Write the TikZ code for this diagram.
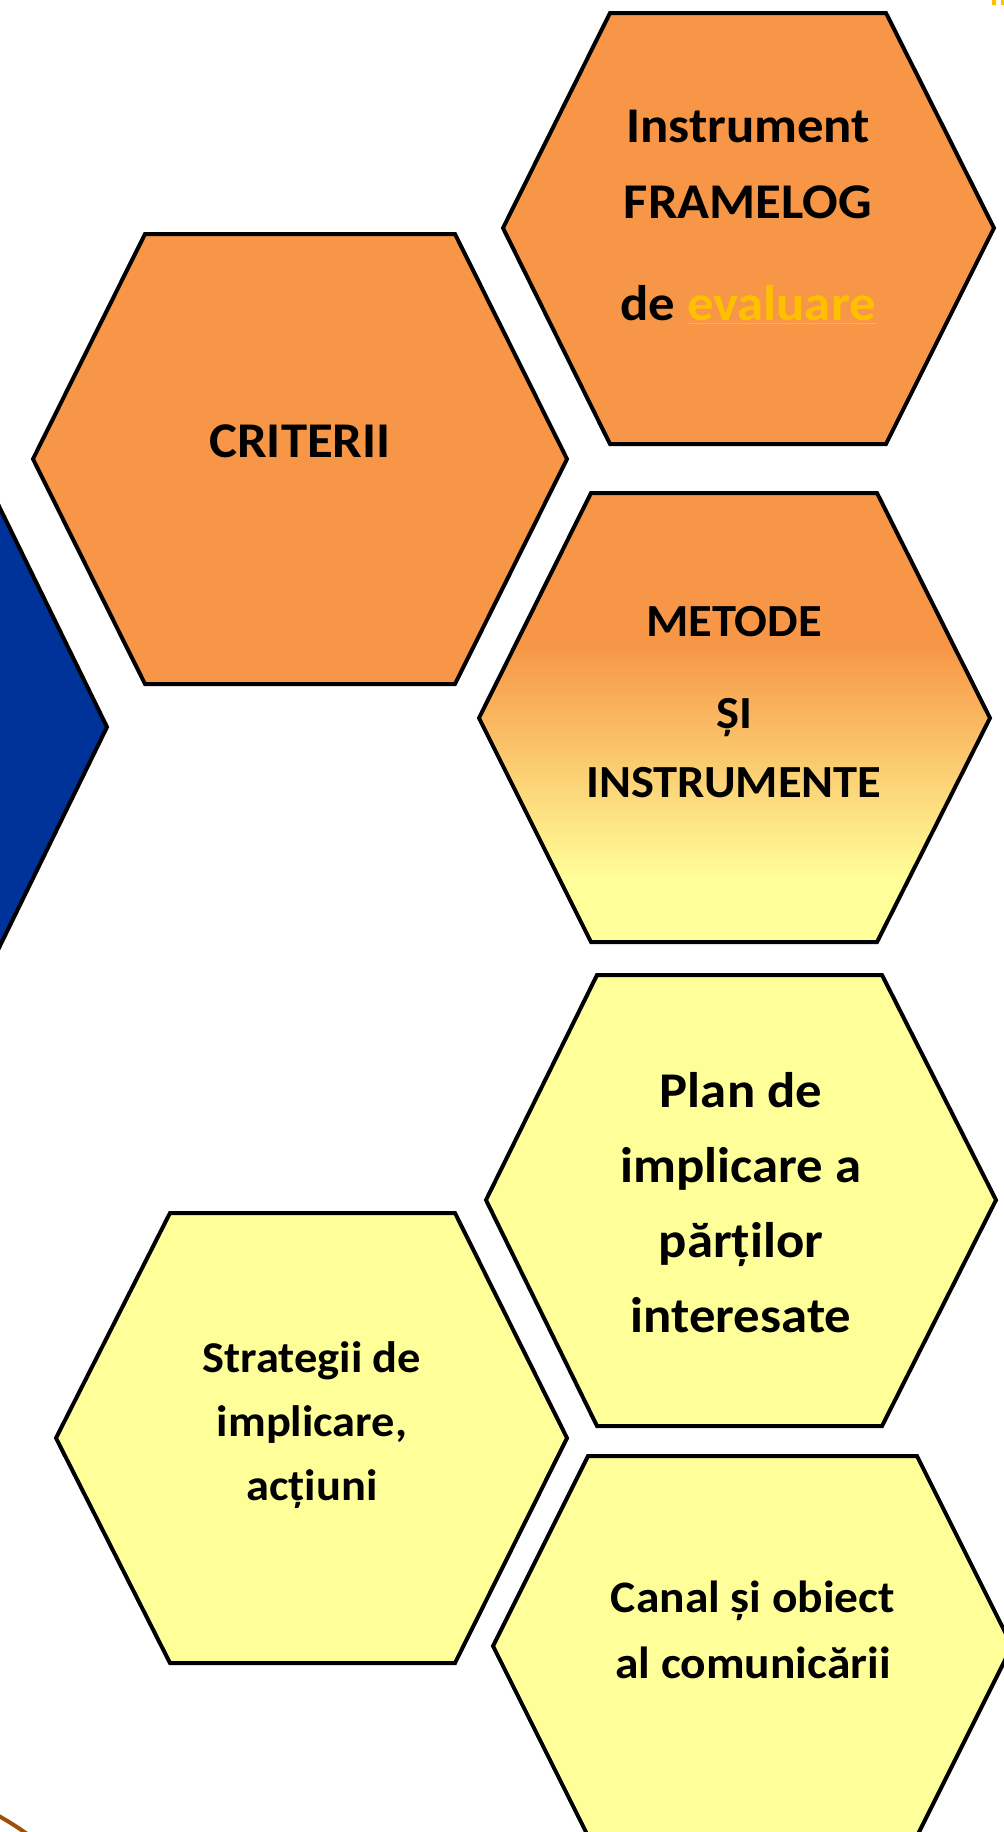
\documentclass[tikz,border=0pt]{standalone}
\usepackage{fontspec}
\setmainfont{Carlito}[FakeStretch=1.055]

\definecolor{hexorange}{RGB}{247,150,70}
\definecolor{hexyellow}{RGB}{255,255,153}
\definecolor{hexblue}{RGB}{0,51,153}
\definecolor{linkgold}{RGB}{255,192,0}
\definecolor{rimbrown}{RGB}{158,80,10}
\pgfdeclareverticalshading{metshade}{100bp}{color(0bp)=(hexyellow); color(32bp)=(hexyellow); color(58bp)=(hexorange); color(100bp)=(hexorange)}

\begin{document}
\begin{tikzpicture}[x=0.5pt,y=-0.5pt,
    hexa/.style={draw=black,line width=2pt},
    lbl/.style={font=\bfseries\fontsize{25}{38}\selectfont,align=center,inner sep=0pt,anchor=base}]
    \useasboundingbox (0,0) rectangle (1004,1832);

    % hexagons
    \draw[hexa,fill=hexblue] (-50,406) -- (107,727) -- (-50,1048) -- cycle;
    \draw[hexa,fill=hexorange] (503,228) -- (610,13) -- (886,13) -- (994,228) -- (886,444) -- (610,444) -- cycle;
    \draw[hexa,fill=hexorange] (33,459) -- (145,234) -- (455,234) -- (567,459) -- (455,684) -- (145,684) -- cycle;
    \draw[hexa,shading=metshade] (479,718) -- (591,493) -- (877,493) -- (990,718) -- (877,942) -- (591,942) -- cycle;
    \draw[hexa,fill=hexyellow] (486,1200) -- (597,975) -- (882,975) -- (996,1200) -- (882,1426) -- (597,1426) -- cycle;
    \draw[hexa,fill=hexyellow] (56,1438) -- (170,1213) -- (455,1213) -- (567,1438) -- (455,1663) -- (170,1663) -- cycle;
    \draw[hexa,fill=hexyellow] (493,1646) -- (588,1456) -- (917,1456) -- (1012,1646) -- (917,1836) -- (588,1836) -- cycle;

    % texts (anchored on the last line)
    \node[lbl] (framelog) at (748,320) {Instrument\\FRAMELOG\\[13pt]de \textcolor{linkgold}{\underline{evaluare}}};
    \node[lbl] (criterii) at (300,457) {CRITERII};
    \node[lbl,font=\bfseries\fontsize{23}{34.5}\selectfont] (metode) at (734,797) {METODE\\[11.5pt]ȘI\\INSTRUMENTE};
    \node[lbl,font=\bfseries\fontsize{25}{37.5}\selectfont] (plan) at (741,1332) {Plan de\\implicare a\\părților\\interesate};
    \node[lbl,font=\bfseries\fontsize{22}{32}\selectfont] (strategii) at (312,1500) {Strategii de\\implicare,\\acțiuni};
    \node[lbl,font=\bfseries\fontsize{22.5}{33}\selectfont] (canal) at (753,1678) {Canal și obiect\\al comunicării};

    % bits cut by the page
    \draw[rimbrown,line width=2pt] (-10,1811) .. controls (8,1821) and (16,1826) .. (30,1836);
    \fill[linkgold] (992,0) rectangle (996,5) (1001,0) rectangle (1005,5);
\end{tikzpicture}
\end{document}
